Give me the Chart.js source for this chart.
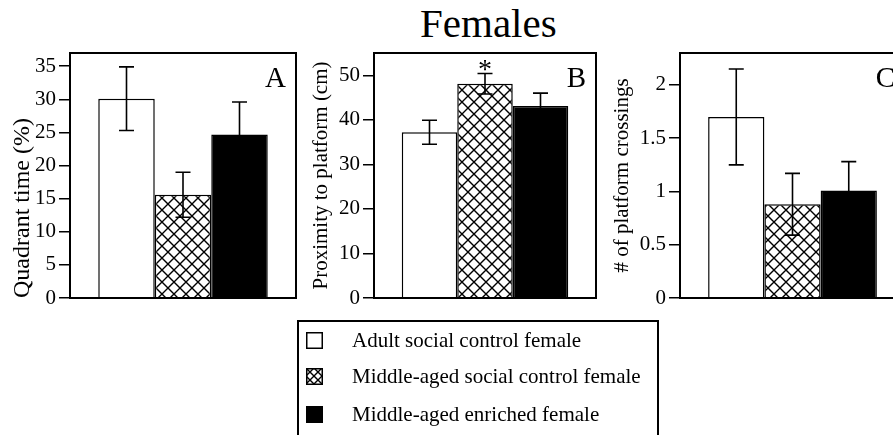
<!DOCTYPE html>
<html>

<head>
  <meta charset="UTF-8">
  <title>Females</title>
  <script src="https://cdn.jsdelivr.net/npm/chart.js"></script>
  <style>
    body {
      margin: 0;
      width: 893px;
      height: 435px;
      overflow: hidden;
      position: relative;
      background: #fff;
      color: #000;
      font-family: 'Liberation Serif', 'Times New Roman', serif;
    }

    canvas.panel {
      position: absolute;
      top: 0;
    }

    #title {
      position: absolute;
      left: 420px;
      top: 3px;
      font-size: 41px;
      line-height: 41px;
    }

    #legend {
      position: absolute;
      left: 297px;
      top: 320px;
      width: 362px;
      height: 140px;
      border: 2px solid #000;
      box-sizing: border-box;
    }

    .row {
      position: absolute;
      left: 7px;
      height: 24px;
      display: flex;
      align-items: center;
      font-size: 21px;
      white-space: nowrap;
    }

    .row canvas {
      margin-right: 29px;
    }
  </style>
</head>

<body>
  <div id="title">Females</div>
  <canvas id="chartA" class="panel" width="310" height="320" style="left:0px"></canvas>
  <canvas id="chartB" class="panel" width="310" height="320" style="left:300px"></canvas>
  <canvas id="chartC" class="panel" width="320" height="320" style="left:600px"></canvas>
  <div id="legend"></div>

  <script>
    // groups (one bar each per panel)
    const groups = ['Adult social control female', 'Middle-aged social control female', 'Middle-aged enriched female'];

    // panel A - quadrant time (%)
    const quadrantTime = [30.1, 15.6, 24.7];
    const quadrantErr = [4.8, 3.4, 4.9];
    const quadrantTicks = [0, 5, 10, 15, 20, 25, 30, 35];

    // panel B - proximity to platform (cm)
    const proximity = [37.2, 48.1, 43.1];
    const proximityErr = [2.7, 2.3, 2.9];
    const proximityTicks = [0, 10, 20, 30, 40, 50];
    const proximityStars = ['', '*', ''];

    // panel C - platform crossings
    const crossings = [1.70, 0.88, 1.01];
    const crossingsErr = [0.45, 0.29, 0.27];
    const crossingsTicks = [0, 0.5, 1, 1.5, 2];

    Chart.defaults.font.family = "'Liberation Serif', 'Times New Roman', serif";
    Chart.defaults.color = '#000';

    function hatch(size) {
      const c = document.createElement('canvas');
      c.width = size;
      c.height = size;
      const g = c.getContext('2d');
      g.fillStyle = '#fff';
      g.fillRect(0, 0, size, size);
      g.strokeStyle = '#000';
      g.lineWidth = 1.4;
      g.beginPath();
      g.moveTo(-1, -1); g.lineTo(size + 1, size + 1);
      g.moveTo(size + 1, -1); g.lineTo(-1, size + 1);
      g.stroke();
      return g.createPattern(c, 'repeat');
    }

    const fills = ['#fff', hatch(12), '#000'];

    // error bars, frame, panel letter, stars
    const decor = {
      id: 'decor',
      afterDatasetsDraw(chart, args, opts) {
        const ctx = chart.ctx;
        const y = chart.scales.y;
        const a = chart.chartArea;
        ctx.save();
        ctx.strokeStyle = '#000';
        ctx.fillStyle = '#000';
        ctx.lineWidth = 1.6;
        chart.data.datasets.forEach((ds, i) => {
          const bar = chart.getDatasetMeta(i).data[0];
          const v = ds.data[0], e = ds.err;
          const top = y.getPixelForValue(v + e);
          const bot = y.getPixelForValue(v - e);
          ctx.beginPath();
          ctx.moveTo(bar.x, top); ctx.lineTo(bar.x, bot);
          ctx.moveTo(bar.x - 7.5, top); ctx.lineTo(bar.x + 7.5, top);
          ctx.moveTo(bar.x - 7.5, bot); ctx.lineTo(bar.x + 7.5, bot);
          ctx.stroke();
          if (ds.star) {
            ctx.font = "28px 'Liberation Serif'";
            ctx.textAlign = 'center';
            ctx.textBaseline = 'alphabetic';
            ctx.fillText(ds.star, bar.x, top + 5);
          }
        });
        ctx.lineWidth = 2;
        ctx.strokeRect(a.left, a.top, a.right - a.left, a.bottom - a.top);
        ctx.font = "29px 'Liberation Serif'";
        ctx.textAlign = 'right';
        ctx.textBaseline = 'alphabetic';
        ctx.fillText(opts.letter, a.right - 10, a.top + 34);
        ctx.restore();
      }
    };

    function makePanel(id, values, errors, stars, ticks, max, title, p) {
      new Chart(document.getElementById(id), {
        type: 'bar',
        data: {
          labels: [''],
          datasets: groups.map((g, i) => ({
            label: g,
            data: [values[i]],
            err: errors[i],
            star: stars ? stars[i] : '',
            backgroundColor: fills[i],
            borderColor: '#000',
            borderWidth: 1.5
          }))
        },
        options: {
          responsive: false,
          animation: false,
          categoryPercentage: 0.75,
          barPercentage: 1.0,
          layout: { padding: { left: 0, right: p.right, top: 53, bottom: 22 } },
          plugins: {
            legend: { display: false },
            tooltip: { enabled: false },
            decor: { letter: p.letter }
          },
          scales: {
            x: { display: false },
            y: {
              min: 0,
              max: max,
              afterFit(scale) { scale.width = p.axisWidth; },
              afterBuildTicks(scale) { scale.ticks = ticks.map(v => ({ value: v })); },
              border: { display: false },
              grid: { drawOnChartArea: false, drawTicks: true, tickLength: 11, color: '#000', lineWidth: 1.5 },
              ticks: { font: { size: 21 }, padding: 3, color: '#000', callback: v => String(v) },
              title: {
                display: true,
                text: title,
                align: p.align,
                font: { size: p.titleSize },
                padding: { top: p.titlePad, bottom: 0 },
                color: '#000'
              }
            }
          }
        },
        plugins: [decor]
      });
    }

    makePanel('chartA', quadrantTime, quadrantErr, null, quadrantTicks, 37, 'Quadrant time (%)',
      { right: 14, axisWidth: 70, titlePad: 8, titleSize: 24, align: 'start', letter: 'A' });
    makePanel('chartB', proximity, proximityErr, proximityStars, proximityTicks, 55, 'Proximity to platform (cm)',
      { right: 14, axisWidth: 74, titlePad: 9, titleSize: 21, align: 'center', letter: 'B' });
    makePanel('chartC', crossings, crossingsErr, null, crossingsTicks, 2.3, '# of platform crossings',
      { right: 15, axisWidth: 80, titlePad: 10, titleSize: 21, align: 'center', letter: 'C' });

    // legend
    const legend = document.getElementById('legend');
    const rowTops = [6, 42, 80];
    groups.forEach((g, i) => {
      const row = document.createElement('div');
      row.className = 'row';
      row.style.top = rowTops[i] + 'px';
      const sw = document.createElement('canvas');
      sw.width = 17;
      sw.height = 17;
      const c = sw.getContext('2d');
      c.fillStyle = i === 1 ? hatch(8) : fills[i];
      c.fillRect(0, 0, 17, 17);
      c.strokeStyle = '#000';
      c.lineWidth = 1.5;
      c.strokeRect(0.75, 0.75, 15.5, 15.5);
      row.appendChild(sw);
      const t = document.createElement('span');
      t.textContent = g;
      row.appendChild(t);
      legend.appendChild(row);
    });
  </script>
</body>

</html>
